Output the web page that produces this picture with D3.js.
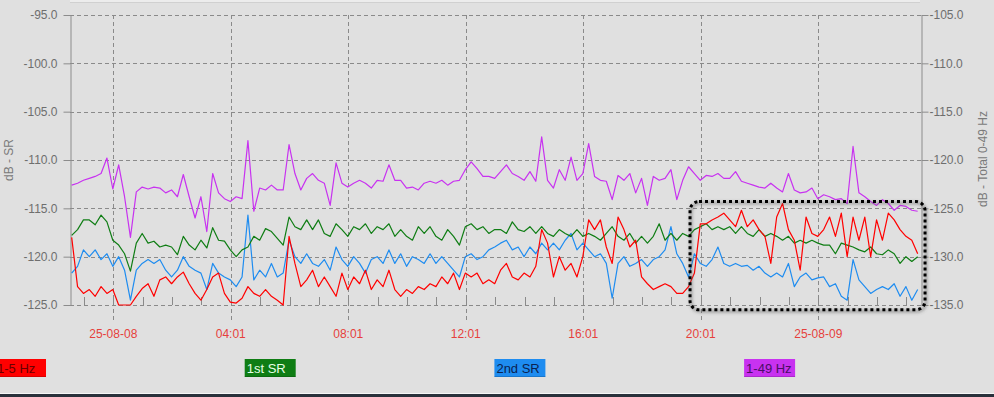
<!DOCTYPE html>
<html>
<head>
<meta charset="utf-8">
<script src="https://cdn.jsdelivr.net/npm/d3@7"></script>
<style>
  html, body { margin: 0; padding: 0; background: #e0e0e0; overflow: hidden; }
  svg { display: block; font-family: "Liberation Sans", Arial, sans-serif; }
</style>
</head>
<body>
<div id="chart"></div>
<script>
// sampling of the logger: one reading every 12 minutes
const startTime = new Date(2025, 7, 7, 22, 36);
const stepMinutes = 12;

// 1-5 Hz (left axis, dB - SR)
const hz1to5 = [
  -118.0, -123.1, -123.8, -123.4, -124.1, -123.1, -123.8, -123.4, -125.0, -125.0,
  -125.0, -124.1, -123.3, -122.8, -124.1, -122.4, -122.1, -122.8, -122.1, -121.6,
  -122.8, -123.8, -124.5, -123.4, -122.1, -121.7, -123.8, -124.7, -124.8, -124.3,
  -123.1, -123.8, -124.1, -123.4, -124.1, -124.5, -125.0, -117.9, -120.7, -123.1,
  -122.4, -121.4, -123.1, -122.1, -123.1, -124.1, -121.7, -123.4, -122.1, -122.8,
  -121.4, -123.4, -122.4, -123.1, -121.4, -123.4, -124.1, -123.4, -123.8, -123.1,
  -123.4, -122.8, -123.1, -122.1, -122.8, -121.7, -123.4, -121.7, -122.1, -121.7,
  -122.8, -122.4, -122.8, -121.4, -120.7, -122.1, -122.4, -121.7, -122.1, -121.0,
  -117.2, -118.6, -122.1, -120.0, -121.4, -120.7, -122.1, -120.0, -116.2, -117.2,
  -116.2, -119.0, -120.7, -115.9, -117.2, -119.0, -118.3, -122.1, -122.8, -123.4,
  -123.1, -122.8, -123.1, -123.8, -123.8, -123.1, -121.7, -116.6, -116.6, -116.2,
  -115.9, -115.5, -116.2, -116.9, -115.2, -116.9, -116.2, -117.2, -117.9, -120.7,
  -115.9, -114.5, -117.2, -118.3, -121.4, -115.9, -117.6, -117.9, -117.2, -115.9,
  -117.9, -115.5, -120.0, -115.9, -118.3, -115.9, -120.0, -116.2, -118.3, -115.5,
  -116.2, -117.2, -117.9, -118.3, -119.7
];

// 1st SR (left axis)
const sr1 = [
  -117.8, -117.2, -116.2, -116.2, -116.7, -115.7, -116.4, -118.3, -118.8, -119.7,
  -121.5, -118.6, -117.6, -118.6, -118.4, -119.0, -118.8, -119.0, -119.8, -117.9,
  -118.8, -119.3, -118.3, -119.1, -117.0, -118.3, -118.4, -119.3, -120.0, -119.3,
  -119.0, -117.9, -118.3, -117.1, -117.4, -118.1, -118.8, -115.9, -116.9, -117.2,
  -116.2, -117.2, -116.2, -117.6, -117.9, -116.6, -117.2, -117.9, -116.9, -117.2,
  -116.6, -117.6, -116.9, -117.2, -116.6, -117.9, -117.2, -117.9, -118.3, -116.9,
  -117.6, -116.9, -117.9, -118.3, -117.2, -117.9, -118.8, -116.9, -116.6, -117.2,
  -116.9, -117.6, -117.2, -117.2, -117.6, -116.4, -117.2, -117.4, -116.9, -117.6,
  -116.9, -117.6, -117.9, -117.2, -117.6, -117.9, -117.2, -117.9, -117.6, -117.9,
  -118.3, -117.6, -116.9, -117.9, -118.3, -117.6, -118.6, -117.9, -118.6, -117.9,
  -116.6, -118.3, -117.6, -118.3, -117.6, -117.9, -117.2, -116.9, -116.6, -117.2,
  -116.9, -117.2, -116.9, -117.6, -116.9, -117.6, -117.9, -117.2, -117.9, -117.6,
  -117.9, -118.3, -117.9, -118.6, -118.3, -118.6, -118.3, -118.6, -118.8, -118.8,
  -119.7, -118.6, -118.8, -119.0, -119.3, -119.5, -119.0, -119.7, -119.8, -119.3,
  -119.7, -120.7, -120.0, -120.5, -120.0
];

// 2nd SR (left axis)
const sr2 = [
  -121.7, -121.0, -119.3, -120.0, -119.3, -120.3, -119.7, -121.0, -120.0, -121.4,
  -124.5, -121.4, -120.7, -120.3, -120.7, -120.3, -121.4, -122.1, -121.4, -120.0,
  -121.0, -121.4, -121.7, -123.4, -120.7, -121.7, -122.1, -122.4, -123.1, -122.1,
  -115.7, -122.4, -121.4, -122.1, -120.7, -122.1, -121.7, -118.3, -120.0, -120.7,
  -119.7, -120.7, -121.0, -120.3, -121.4, -119.0, -120.3, -121.0, -120.0, -120.7,
  -121.7, -120.3, -120.0, -120.7, -119.3, -120.7, -119.7, -121.0, -120.0, -120.3,
  -120.7, -119.7, -120.7, -120.0, -120.7, -121.4, -122.1, -120.0, -119.7, -120.3,
  -120.0, -119.3, -119.0, -118.6, -118.3, -119.3, -119.0, -120.0, -119.0, -119.7,
  -118.6, -119.3, -118.6, -119.3, -118.3, -117.6, -119.3, -118.6, -119.3, -120.0,
  -119.7, -120.7, -124.3, -120.7, -120.0, -121.0, -120.7, -120.3, -121.0, -120.3,
  -120.0, -119.3, -116.9, -119.7, -120.7, -122.1, -119.7, -120.7, -121.0, -120.3,
  -119.0, -120.7, -121.0, -120.7, -121.0, -120.9, -121.4, -121.0, -121.7, -122.1,
  -121.7, -122.1, -120.7, -123.1, -122.1, -121.7, -122.4, -122.2, -122.1, -123.1,
  -122.8, -124.1, -124.5, -120.3, -122.4, -123.1, -123.8, -123.4, -123.1, -123.4,
  -122.8, -124.1, -123.1, -124.5, -123.4
];

// 1-49 Hz (right axis, dB - Total 0-49 Hz)
const hz1to49 = [
  -122.6, -122.4, -122.1, -121.9, -121.7, -121.4, -119.8, -123.0, -120.5, -123.8,
  -128.0, -123.3, -122.8, -123.0, -122.8, -122.9, -123.4, -123.1, -123.8, -121.5,
  -123.8, -126.0, -123.8, -127.4, -121.4, -123.4, -124.0, -124.3, -123.8, -124.0,
  -118.0, -125.3, -122.9, -123.1, -122.6, -123.1, -123.1, -118.4, -121.4, -123.1,
  -121.9, -121.4, -122.1, -122.4, -124.7, -120.3, -122.4, -122.8, -122.4, -122.1,
  -122.4, -122.9, -122.1, -122.2, -120.5, -122.1, -122.1, -122.9, -122.8, -123.1,
  -122.4, -122.2, -122.4, -122.1, -122.6, -122.2, -122.1, -121.0, -120.2, -120.9,
  -121.7, -121.7, -121.9, -121.2, -120.5, -121.4, -121.7, -122.1, -121.2, -122.2,
  -117.6, -122.1, -122.9, -121.0, -122.1, -119.7, -122.1, -121.4, -118.3, -121.7,
  -122.1, -122.2, -124.1, -121.6, -122.1, -121.4, -123.4, -121.9, -124.7, -121.7,
  -122.1, -121.9, -121.0, -124.1, -122.1, -120.7, -121.4, -122.1, -121.6, -121.7,
  -121.4, -121.9, -121.9, -121.2, -122.2, -122.4, -122.6, -122.8, -122.9, -122.4,
  -122.9, -123.3, -121.4, -123.1, -123.4, -123.3, -122.9, -124.0, -123.6, -123.8,
  -124.1, -124.0, -124.5, -118.6, -123.4, -123.8, -124.3, -124.7, -124.1, -124.5,
  -125.2, -124.7, -124.8, -125.2, -125.3
];

const leftTicks = [-125, -120, -115, -110, -105, -100, -95];
const rightTicks = [-135, -130, -125, -120, -115, -110, -105];
const timeTicks = [
  new Date(2025, 7, 8, 0, 1), new Date(2025, 7, 8, 4, 1), new Date(2025, 7, 8, 8, 1),
  new Date(2025, 7, 8, 12, 1), new Date(2025, 7, 8, 16, 1), new Date(2025, 7, 8, 20, 1),
  new Date(2025, 7, 9, 0, 1)
];
const timeLabels = ["25-08-08", "04:01", "08:01", "12:01", "16:01", "20:01", "25-08-09"];

const seriesNames = ["1-5 Hz", "1st SR", "2nd SR", "1-49 Hz"];
const seriesColors = ["#ff0000", "#0f7d14", "#1e8cf0", "#c832f0"];
const legendTextColors = ["#6a0000", "#e6ffe6", "#0a2250", "#4a0f66"];

// dotted box marked on the chart (time / left-axis dB)
const highlight = { start: new Date(2025, 7, 8, 19, 39), end: new Date(2025, 7, 9, 3, 39), top: -114.3, bottom: -125.5 };

const width = 994, height = 397;
const plot = { left: 70, right: 921, top: 15, bottom: 305 };

const svg = d3.select("#chart").append("svg")
  .attr("width", width)
  .attr("height", height);

svg.append("rect").attr("width", width).attr("height", height).attr("fill", "#e0e0e0");

// thin strip at the top of the window
svg.append("rect").attr("x", 70).attr("y", 0).attr("width", 850).attr("height", 2).attr("fill", "#ececec");
svg.append("line").attr("x1", 70).attr("x2", 920).attr("y1", 2.5).attr("y2", 2.5)
  .attr("stroke", "#d0d0d0").attr("stroke-width", 1);

const x = d3.scaleTime()
  .domain([new Date(2025, 7, 7, 22, 32, 34), new Date(2025, 7, 9, 3, 30, 47)])
  .range([plot.left, plot.right]);
const yLeft = d3.scaleLinear().domain([-125, -95]).range([plot.bottom, plot.top]);
const yRight = d3.scaleLinear().domain([-135, -105]).range([plot.bottom, plot.top]);

const times = hz1to5.map((d, i) => new Date(+startTime + i * stepMinutes * 60000));

// horizontal grid
svg.append("g").selectAll("line").data(leftTicks).join("line")
  .attr("x1", plot.left).attr("x2", plot.right)
  .attr("y1", d => Math.round(yLeft(d)) + 0.5).attr("y2", d => Math.round(yLeft(d)) + 0.5)
  .attr("stroke", "#8a8a8a").attr("stroke-width", 1).attr("stroke-dasharray", "4,3");

// vertical grid, runs down past the axis to the labels
svg.append("g").selectAll("line").data(timeTicks).join("line")
  .attr("x1", d => Math.round(x(d)) + 0.5).attr("x2", d => Math.round(x(d)) + 0.5)
  .attr("y1", plot.top).attr("y2", plot.bottom + 18)
  .attr("stroke", "#8a8a8a").attr("stroke-width", 1).attr("stroke-dasharray", "4,3");

// hourly minor ticks on the bottom edge
const hours = d3.timeHour.range(x.domain()[0], x.domain()[1]).map(d => d3.timeMinute.offset(d, 1));
svg.append("g").selectAll("line").data(hours).join("line")
  .attr("x1", d => Math.round(x(d)) + 0.5).attr("x2", d => Math.round(x(d)) + 0.5)
  .attr("y1", plot.bottom - 8).attr("y2", plot.bottom)
  .attr("stroke", "#8a8a8a").attr("stroke-width", 1);

// left axis
const leftAxis = svg.append("g")
  .attr("transform", `translate(${plot.left + 0.5},0)`)
  .call(d3.axisLeft(yLeft).tickValues(leftTicks).tickFormat(d => d.toFixed(1)).tickSize(7).tickSizeOuter(0).tickPadding(6));
// right axis
const rightAxis = svg.append("g")
  .attr("transform", `translate(${plot.right + 0.5},0)`)
  .call(d3.axisRight(yRight).tickValues(rightTicks).tickFormat(d => d.toFixed(1)).tickSize(7).tickSizeOuter(0).tickPadding(1));

[leftAxis, rightAxis].forEach(ax => {
  ax.select(".domain").attr("stroke", "#8c8c8c");
  ax.selectAll(".tick line").attr("stroke", "#8c8c8c");
  ax.selectAll(".tick text").attr("fill", "#6e6e6e").style("font-size", "12px")
    .style("font-family", "'Liberation Sans', Arial, sans-serif");
});

svg.append("text")
  .attr("transform", "translate(13,160) rotate(-90)")
  .attr("text-anchor", "middle")
  .attr("fill", "#7a7a7a").style("font-size", "12px")
  .text("dB - SR");
svg.append("text")
  .attr("transform", "translate(987,159) rotate(-90)")
  .attr("text-anchor", "middle")
  .attr("fill", "#7a7a7a").style("font-size", "12px")
  .text("dB - Total 0-49 Hz");

// series lines
svg.append("defs").append("clipPath").attr("id", "plot-clip")
  .append("rect").attr("x", plot.left).attr("y", plot.top - 2)
  .attr("width", plot.right - plot.left).attr("height", plot.bottom - plot.top + 3);

const lineLeft = d3.line().x((d, i) => x(times[i])).y(d => yLeft(d));
const lineRight = d3.line().x((d, i) => x(times[i])).y(d => yRight(d));

const lines = svg.append("g").attr("clip-path", "url(#plot-clip)").attr("fill", "none")
  .attr("stroke-width", 1.2).attr("stroke-linejoin", "round");
lines.append("path").attr("d", lineLeft(sr2)).attr("stroke", seriesColors[2]);
lines.append("path").attr("d", lineLeft(sr1)).attr("stroke", seriesColors[1]);
lines.append("path").attr("d", lineLeft(hz1to5)).attr("stroke", seriesColors[0]);
lines.append("path").attr("d", lineRight(hz1to49)).attr("stroke", seriesColors[3]);

// dotted highlight box with a soft shadow
const defs = svg.select("defs");
defs.append("filter").attr("id", "soft").attr("x", "-10%").attr("y", "-10%").attr("width", "120%").attr("height", "120%")
  .append("feGaussianBlur").attr("stdDeviation", 1.6);
const hx = x(highlight.start), hw = x(highlight.end) - x(highlight.start);
const hy = yLeft(highlight.top), hh = yLeft(highlight.bottom) - yLeft(highlight.top);
svg.append("rect")
  .attr("x", hx + 1).attr("y", hy + 1.5).attr("width", hw).attr("height", hh).attr("rx", 9)
  .attr("fill", "none").attr("stroke", "#555").attr("stroke-opacity", 0.45).attr("stroke-width", 3)
  .attr("filter", "url(#soft)");
svg.append("rect")
  .attr("x", hx).attr("y", hy).attr("width", hw).attr("height", hh).attr("rx", 9)
  .attr("fill", "none").attr("stroke", "#000").attr("stroke-width", 3).attr("stroke-dasharray", "3,3");

// time labels
svg.append("g").selectAll("text").data(timeTicks).join("text")
  .attr("x", d => x(d)).attr("y", 338)
  .attr("text-anchor", "middle")
  .attr("fill", "#e6403c").style("font-size", "12px")
  .text((d, i) => timeLabels[i]);

// legend
const legend = svg.append("g").selectAll("g").data(seriesNames).join("g")
  .attr("transform", (d, i) => `translate(${-5 + i * 249.7},359)`);
legend.append("rect").attr("width", 51).attr("height", 18)
  .attr("fill", (d, i) => seriesColors[i]);
legend.append("rect").attr("y", 17).attr("width", 51).attr("height", 1)
  .attr("fill", "#000").attr("opacity", 0.15);
legend.append("text").attr("x", 2).attr("y", 13.5)
  .attr("fill", (d, i) => legendTextColors[i])
  .style("font-size", "13px")
  .text(d => d);

// window edge at the bottom
svg.append("rect").attr("x", 0).attr("y", 393).attr("width", width).attr("height", 1).attr("fill", "#f6f6f6");
svg.append("rect").attr("x", 0).attr("y", 394).attr("width", width).attr("height", 3).attr("fill", "#29313b");
</script>
</body>
</html>
